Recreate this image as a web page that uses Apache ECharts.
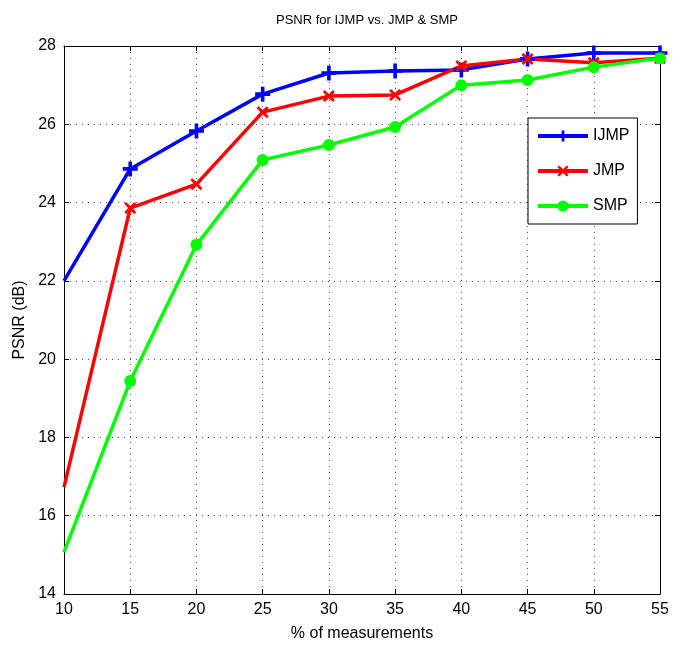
<!DOCTYPE html>
<html><head><meta charset="utf-8">
<script src="https://cdn.jsdelivr.net/npm/echarts@6/dist/echarts.min.js"></script>
<style>html,body{margin:0;padding:0;background:#fff}#c{width:673px;height:647px}</style>
</head><body><div id="c"></div>
<script>
const xValues = [10, 15, 20, 25, 30, 35, 40, 45, 50, 55];
const ijmp = [22.0, 24.86, 25.83, 26.77, 27.31, 27.36, 27.39, 27.67, 27.82, 27.82];
const jmp  = [16.73, 23.86, 24.47, 26.31, 26.72, 26.75, 27.49, 27.67, 27.57, 27.69];
const smp  = [15.07, 19.44, 22.92, 25.09, 25.47, 25.93, 27.0, 27.13, 27.46, 27.69];
const seriesNames = ['IJMP', 'JMP', 'SMP'];
const colors = ['#0000ff', '#ff0000', '#00ff00'];

const font = 'Liberation Sans, Arial, sans-serif';
const plusPath = 'path://M3.8,0h2.4v3.8h3.8v2.4h-3.8v3.8h-2.4v-3.8h-3.8v-2.4h3.8z';
const xPath = 'path://M1.5,0L5,3.2L8.5,0L10,1.5L6.8,5L10,8.5L8.5,10L5,6.8L1.5,10L0,8.5L3.2,5L0,1.5z';

function mk(name, data, color, symbol, size) {
  return {
    name, type: 'line',
    data: xValues.map((x, i) => i === 0 ? { value: [x, data[i]], symbol: 'none' } : [x, data[i]]),
    xAxisIndex: 0, yAxisIndex: 0,
    lineStyle: { color, width: 3.5 }, itemStyle: { color },
    symbol, symbolSize: size, showAllSymbol: true, animation: false
  };
}
const gridLine = { show: true, lineStyle: { color: '#555', type: [1, 5], width: 1 } };
const chart = echarts.init(document.getElementById('c'));
chart.setOption({
  animation: false,
  title: { text: 'PSNR for IJMP vs. JMP & SMP', left: 362, textAlign: 'center', top: 9,
    textStyle: { fontFamily: font, fontSize: 13, fontWeight: 'normal', color: '#000' } },
  legend: {
    orient: 'vertical', left: 528, top: 118, width: 100,
    data: seriesNames, itemWidth: 50, itemHeight: 14, itemGap: 19,
    lineStyle: { width: 4 },
    borderColor: '#000', borderWidth: 1, backgroundColor: '#fff', padding: [10, 8, 10, 8],
    textStyle: { fontFamily: font, fontSize: 16, color: '#000' }
  },
  grid: { left: 64, right: 13, top: 46, bottom: 53 },
  xAxis: [{
    type: 'value', min: 10, max: 55, interval: 5,
    name: '% of measurements', nameLocation: 'middle', nameGap: 32,
    nameTextStyle: { fontFamily: font, fontSize: 16, color: '#000' },
    axisLine: { show: true, onZero: false, lineStyle: { color: '#000', width: 1 } },
    axisTick: { show: true, inside: true, length: 5, lineStyle: { color: '#000' } },
    axisLabel: { fontFamily: font, fontSize: 16, color: '#000', margin: 8 },
    splitLine: gridLine
  }, {
    type: 'value', min: 10, max: 55, interval: 5, position: 'top',
    axisLine: { show: true, onZero: false, lineStyle: { color: '#000', width: 1 } },
    axisTick: { show: true, inside: true, length: 5, lineStyle: { color: '#000' } },
    axisLabel: { show: false }, splitLine: { show: false }
  }],
  yAxis: [{
    type: 'value', min: 14, max: 28, interval: 2,
    name: 'PSNR (dB)', nameLocation: 'middle', nameGap: 34,
    nameTextStyle: { fontFamily: font, fontSize: 16, color: '#000' },
    axisLine: { show: true, onZero: false, lineStyle: { color: '#000', width: 1 } },
    axisTick: { show: true, inside: true, length: 5, lineStyle: { color: '#000' } },
    axisLabel: { fontFamily: font, fontSize: 16, color: '#000', margin: 8 },
    splitLine: gridLine
  }, {
    type: 'value', min: 14, max: 28, interval: 2, position: 'right',
    axisLine: { show: true, onZero: false, lineStyle: { color: '#000', width: 1 } },
    axisTick: { show: true, inside: true, length: 5, lineStyle: { color: '#000' } },
    axisLabel: { show: false }, splitLine: { show: false }
  }],
  series: [
    mk(seriesNames[0], ijmp, colors[0], plusPath, 15),
    mk(seriesNames[1], jmp, colors[1], xPath, 12),
    mk(seriesNames[2], smp, colors[2], 'circle', 12)
  ]
});
</script></body></html>
